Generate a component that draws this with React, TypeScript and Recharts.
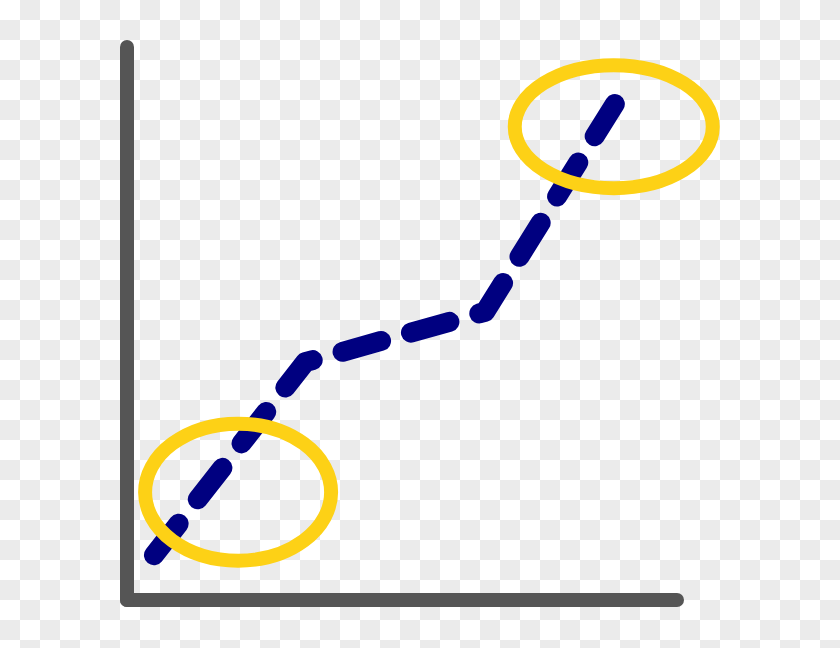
import React from "react";
import { LineChart, Line, XAxis, YAxis, ReferenceDot } from "recharts";

// path of the dashed trend line (data units, 0-100 on both axes)
const pointX = [4.9, 32.4, 65.1, 88.7];
const pointY = [8.1, 43.0, 52.1, 89.7];

// highlighted regions
const ringX = [20.2, 88.5];
const ringY = [19.5, 85.6];
const ringRx = [93, 99];
const ringRy = [68.5, 61.5];

const data = pointX.map((x, i) => ({ x, y: pointY[i] }));

const AXIS = { stroke: "#555555", strokeWidth: 14, strokeLinecap: "round" as const };

function Ring(rx: number, ry: number) {
  return (props: any) => (
    <ellipse
      cx={props.cx}
      cy={props.cy}
      rx={rx}
      ry={ry}
      fill="none"
      stroke="#FDD116"
      strokeWidth={14}
    />
  );
}

function Checker() {
  return (
    <svg width={840} height={648} style={{ position: "absolute", left: 0, top: 0 }}>
      <defs>
        <pattern id="checker" width={40} height={40} patternUnits="userSpaceOnUse">
          <rect width={40} height={40} fill="#ffffff" />
          <rect x={20} y={0} width={20} height={20} fill="#ebebeb" />
          <rect x={0} y={20} width={20} height={20} fill="#ebebeb" />
        </pattern>
      </defs>
      <rect width={840} height={648} fill="url(#checker)" />
    </svg>
  );
}

export default function App() {
  return (
    <div style={{ position: "absolute", left: 0, top: 0, width: 840, height: 648 }}>
      <Checker />
      <div style={{ position: "absolute", left: 0, top: 0 }}>
        <LineChart
          width={840}
          height={648}
          data={data}
          margin={{ top: 47, right: 163, bottom: 47, left: 126 }}
        >
          <XAxis
            type="number"
            dataKey="x"
            domain={[0, 100]}
            height={1}
            tick={false}
            tickLine={false}
            axisLine={AXIS}
          />
          <YAxis
            type="number"
            domain={[0, 100]}
            width={1}
            tick={false}
            tickLine={false}
            axisLine={AXIS}
          />
          <Line
            type="linear"
            dataKey="y"
            stroke="#000080"
            strokeWidth={20}
            strokeDasharray="40 31"
            strokeLinecap="round"
            strokeLinejoin="round"
            dot={false}
            activeDot={false}
            isAnimationActive={false}
          />
          {ringX.map((x, i) => (
            <ReferenceDot
              key={i}
              x={x}
              y={ringY[i]}
              r={1}
              shape={Ring(ringRx[i], ringRy[i])}
            />
          ))}
        </LineChart>
      </div>
    </div>
  );
}
